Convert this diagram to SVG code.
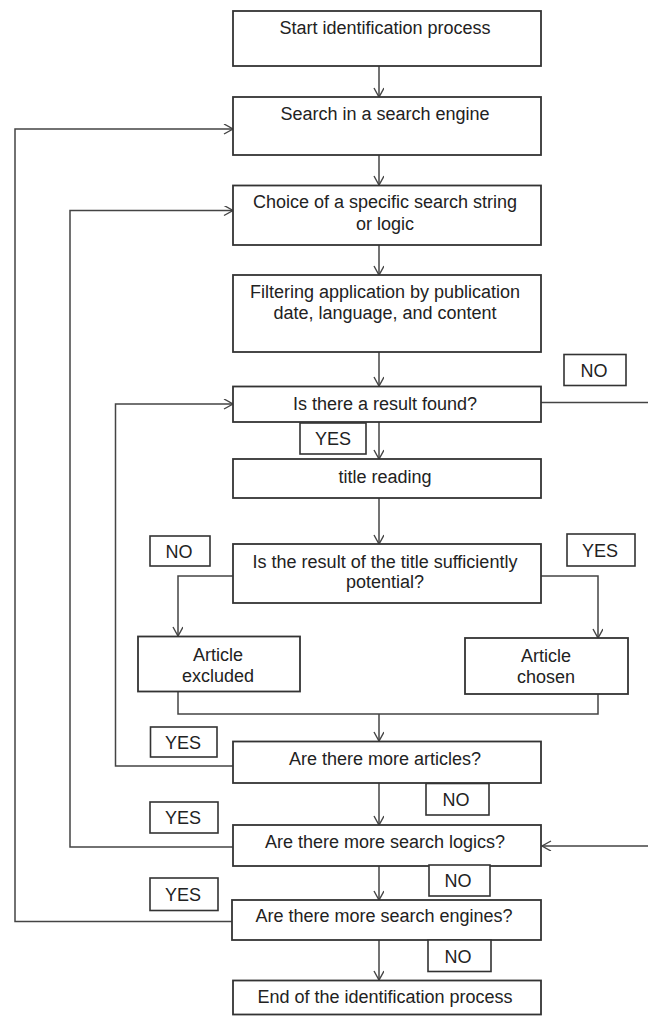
<svg xmlns="http://www.w3.org/2000/svg" width="648" height="1016" viewBox="0 0 648 1016">
<style>
.box{fill:#fff;stroke:#333;stroke-width:1.8}
.lbl{fill:#fff;stroke:#333;stroke-width:1.6}
.t{font-family:"Liberation Sans",Arial,sans-serif;font-size:18px;fill:#222;text-anchor:middle}
.c{fill:none;stroke:#444;stroke-width:1.5}
</style>
<defs>
<marker id="a" markerUnits="userSpaceOnUse" markerWidth="12" markerHeight="12" refX="10" refY="5" orient="auto">
<path d="M1,0 L10,5 L1,10" fill="none" stroke="#444" stroke-width="1.4"/>
</marker>
</defs>
<rect width="648" height="1016" fill="#fff"/>
<g id="connectors">
<path class="c" d="M379,66 V97" marker-end="url(#a)"/>
<path class="c" d="M379,155 V185" marker-end="url(#a)"/>
<path class="c" d="M379,245 V275" marker-end="url(#a)"/>
<path class="c" d="M379,352 V386" marker-end="url(#a)"/>
<path class="c" d="M379,422 V459" marker-end="url(#a)"/>
<path class="c" d="M379,498 V544" marker-end="url(#a)"/>
<path class="c" d="M233,576 H178 V636" marker-end="url(#a)"/>
<path class="c" d="M541,576 H598 V638" marker-end="url(#a)"/>
<path class="c" d="M178,692 V714 H598 V694"/>
<path class="c" d="M379,714 V741" marker-end="url(#a)"/>
<path class="c" d="M379,783 V825" marker-end="url(#a)"/>
<path class="c" d="M379,866 V900" marker-end="url(#a)"/>
<path class="c" d="M379,940 V980" marker-end="url(#a)"/>
<path class="c" d="M233,766 H115.5 V404 H233" marker-end="url(#a)"/>
<path class="c" d="M233,847 H70 V210.5 H233" marker-end="url(#a)"/>
<path class="c" d="M233,921.5 H15 V129 H233" marker-end="url(#a)"/>
<path class="c" d="M541,402.5 H652 V846 H542" marker-end="url(#a)"/>
</g>
<g id="start"><rect class="box" x="233" y="11" width="308" height="55"/><text class="t" x="385" y="34">Start identification process</text></g>
<g id="search"><rect class="box" x="233" y="97" width="308" height="58"/><text class="t" x="385" y="119.5">Search in a search engine</text></g>
<g id="choice"><rect class="box" x="233" y="185.5" width="308" height="59.5"/><text class="t" x="385" y="207.5">Choice of a specific search string</text><text class="t" x="385" y="229.5">or logic</text></g>
<g id="filter"><rect class="box" x="233" y="275" width="308" height="77"/><text class="t" x="385" y="298">Filtering application by publication</text><text class="t" x="385" y="319">date, language, and content</text></g>
<g id="result"><rect class="box" x="233" y="386.5" width="308" height="35.5"/><text class="t" x="385" y="410">Is there a result found?</text></g>
<g id="title"><rect class="box" x="233" y="459" width="308" height="39"/><text class="t" x="385" y="482.5">title reading</text></g>
<g id="potential"><rect class="box" x="233" y="544" width="308" height="59"/><text class="t" x="385" y="567.5">Is the result of the title sufficiently</text><text class="t" x="385" y="588">potential?</text></g>
<g id="excluded"><rect class="box" x="138" y="636.5" width="162" height="55"/><text class="t" x="218" y="660.5">Article</text><text class="t" x="218" y="681.5">excluded</text></g>
<g id="chosen"><rect class="box" x="465" y="638" width="163" height="56"/><text class="t" x="546" y="661.5">Article</text><text class="t" x="546" y="682.5">chosen</text></g>
<g id="articles"><rect class="box" x="233" y="741.5" width="308" height="41.5"/><text class="t" x="385" y="765">Are there more articles?</text></g>
<g id="logics"><rect class="box" x="233" y="825" width="308" height="41"/><text class="t" x="385" y="848">Are there more search logics?</text></g>
<g id="engines"><rect class="box" x="232" y="900" width="309" height="40"/><text class="t" x="384" y="921.5">Are there more search engines?</text></g>
<g id="end"><rect class="box" x="233" y="980.5" width="308" height="34"/><text class="t" x="385" y="1003">End of the identification process</text></g>
<g id="no1"><rect class="lbl" x="564" y="354.5" width="62" height="31"/><text class="t" x="594" y="376.5">NO</text></g>
<g id="yes1"><rect class="lbl" x="300" y="423" width="66" height="31"/><text class="t" x="333" y="445">YES</text></g>
<g id="no2"><rect class="lbl" x="150" y="536" width="60" height="30"/><text class="t" x="179" y="557.5">NO</text></g>
<g id="yes2"><rect class="lbl" x="567" y="534" width="68" height="32"/><text class="t" x="600" y="556.5">YES</text></g>
<g id="yes3"><rect class="lbl" x="150.5" y="727" width="66.5" height="30"/><text class="t" x="183" y="748.5">YES</text></g>
<g id="no3"><rect class="lbl" x="426" y="783.5" width="63" height="31.5"/><text class="t" x="456" y="806">NO</text></g>
<g id="yes4"><rect class="lbl" x="150" y="802" width="68" height="31"/><text class="t" x="183" y="824">YES</text></g>
<g id="no4"><rect class="lbl" x="429" y="865" width="61" height="31"/><text class="t" x="458" y="887">NO</text></g>
<g id="yes5"><rect class="lbl" x="150" y="878" width="68" height="32.5"/><text class="t" x="183" y="901">YES</text></g>
<g id="no5"><rect class="lbl" x="428" y="940" width="63" height="31.5"/><text class="t" x="458" y="962.5">NO</text></g>
</svg>
